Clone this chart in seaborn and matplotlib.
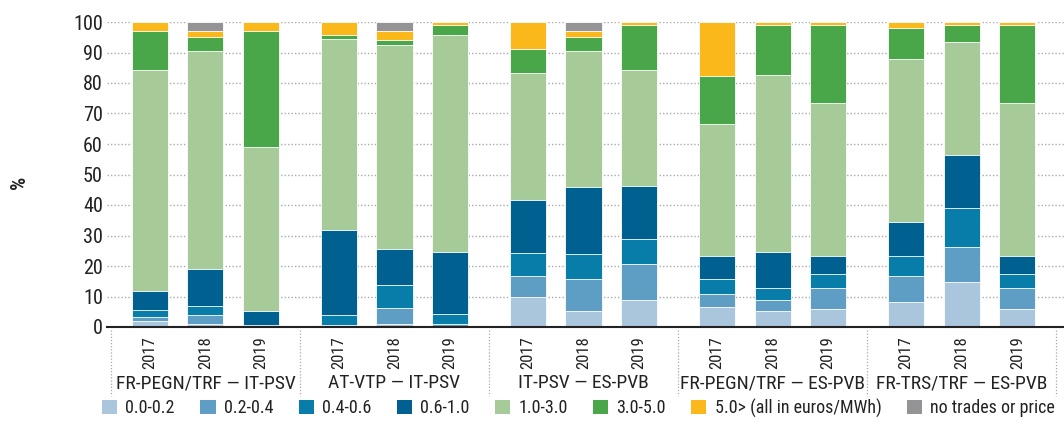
import os
import glob
import numpy as np
import pandas as pd
import matplotlib
matplotlib.use("Agg")
import matplotlib.pyplot as plt
import matplotlib.transforms as mtransforms
from matplotlib.patches import Patch
from matplotlib import font_manager
from matplotlib.font_manager import FontProperties
import seaborn as sns

# ---------------- data ----------------
groups = ["FR-PEGN/TRF \u2014 IT-PSV", "AT-VTP \u2014 IT-PSV", "IT-PSV \u2014 ES-PVB",
          "FR-PEGN/TRF \u2014 ES-PVB", "FR-TRS/TRF \u2014 ES-PVB"]
years = ["2017", "2018", "2019"]
categories = ["0.0-0.2", "0.2-0.4", "0.4-0.6", "0.6-1.0", "1.0-3.0", "3.0-5.0",
              "5.0> (all in euros/MWh)", "no trades or price"]

s_00_02 = [2.0, 0.9, 0.0,  0.0, 0.9, 0.0,  9.9, 5.1, 8.8,  6.7, 5.1, 5.8,  8.1, 14.6, 5.8]
s_02_04 = [1.3, 2.9, 0.0,  0.5, 5.2, 1.1,  6.9, 10.6, 11.8,  4.0, 3.7, 7.1,  8.5, 11.6, 7.1]
s_04_06 = [2.4, 3.0, 0.5,  3.3, 7.8, 3.3,  7.3, 8.1, 8.1,  5.2, 4.1, 4.6,  6.6, 12.9, 4.6]
s_06_10 = [6.1, 12.3, 4.6,  28.0, 11.8, 20.2,  17.5, 22.2, 17.6,  7.3, 11.7, 5.9,  11.1, 17.4, 5.9]
s_10_30 = [72.5, 71.5, 54.0,  62.7, 66.8, 71.1,  41.6, 44.6, 38.0,  43.4, 58.1, 50.1,  53.6, 36.8, 50.1]
s_30_50 = [12.6, 4.6, 37.8,  1.2, 1.5, 3.2,  8.0, 4.4, 14.6,  15.7, 16.4, 25.6,  10.1, 5.8, 25.6]
s_50_up = [3.1, 1.8, 3.1,  4.3, 3.0, 1.1,  8.8, 2.0, 1.1,  17.7, 0.9, 0.9,  2.0, 0.9, 0.9]
s_none = [0.0, 3.0, 0.0,  0.0, 3.0, 0.0,  0.0, 3.0, 0.0,  0.0, 0.0, 0.0,  0.0, 0.0, 0.0]

series = [s_00_02, s_02_04, s_04_06, s_06_10, s_10_30, s_30_50, s_50_up, s_none]
colors = ["#A9C6DD", "#5F9EC4", "#087DAA", "#00608F", "#A6CA98", "#49A649", "#FBB81A", "#949496"]

# ---------------- style ----------------
sns.set_style("white")
plt.rcParams["font.family"] = ["Liberation Sans", "DejaVu Sans"]

pref = ["LiberationSansNarrow-Regular", "ArialNarrow", "Arial Narrow", "NotoSans-Condensed.",
        "NotoSansCondensed-Regular", "RobotoCondensed-Regular", "DejaVuSansCondensed.",
        "OpenSans_Condensed-Regular", "OpenSansCondensed"]
files = [f.fname for f in font_manager.fontManager.ttflist]
for d in ["/usr/share/fonts", "/usr/local/share/fonts", os.path.expanduser("~/.fonts")]:
    try:
        files += glob.glob(os.path.join(d, "**", "*.[ot]tf"), recursive=True)
    except Exception:
        pass
narrow = None
for p in pref:
    for f in files:
        if p.lower() in os.path.basename(f).lower():
            narrow = f
            break
    if narrow:
        break

narrow_bold = None
if narrow:
    base = os.path.basename(narrow)
    cands = [base.replace("Regular", "Bold"), base.replace("Condensed.", "CondensedBold."),
             base.replace("Condensed.", "Condensed-Bold."), base.replace("Narrow-Regular", "Narrow-Bold"),
             base.replace(".", "-Bold.", 1)]
    for c in cands:
        for f in files:
            if os.path.basename(f).lower() == c.lower() and f != narrow:
                narrow_bold = f
                break
        if narrow_bold:
            break

if narrow:
    def FP(size, weight="normal"):
        if weight == "bold" and narrow_bold:
            return FontProperties(fname=narrow_bold, size=size)
        return FontProperties(fname=narrow, size=size)
    scale = 1.0
else:
    def FP(size, weight="normal"):
        return FontProperties(family=["Liberation Sans", "DejaVu Sans"], size=size, weight=weight)
    scale = 0.82

txt_color = "#222222"

fig = plt.figure(figsize=(10.64, 4.32), dpi=100)
ax = fig.add_axes([107 / 1064, 105 / 432, 1 - 107 / 1064, 305 / 432])

step_g = 3.4
pos = np.array([g * step_g + i for g in range(len(groups)) for i in range(len(years))])

vals = np.array(series)
cum = np.cumsum(vals, axis=0)

for k in range(len(series) - 1, -1, -1):
    df = pd.DataFrame({"pos": pos, "val": cum[k]})
    sns.barplot(data=df, x="pos", y="val", native_scale=True, orient="x",
                color=colors[k], saturation=1, width=0.65,
                edgecolor="white", linewidth=0.6, ax=ax, zorder=2)

ax.set_xlim(-0.77, 16.44)
ax.set_ylim(0, 100)
ax.set_yticks(range(0, 101, 10))
ax.set_yticklabels([str(v) for v in range(0, 101, 10)], color=txt_color)
for t in ax.get_yticklabels():
    t.set_fontproperties(FP(14.5 * scale))
ax.yaxis.grid(True, linestyle=(0, (1, 1.5)), color="#AAAAAA", linewidth=1.0, zorder=0)
ax.xaxis.grid(False)
ax.set_axisbelow(True)
for s in ["left", "right", "top"]:
    ax.spines[s].set_visible(False)
ax.spines["bottom"].set_color("#222222")
ax.spines["bottom"].set_linewidth(1.5)
ax.tick_params(axis="y", length=0, pad=3)
ax.tick_params(axis="x", length=0, pad=7)
ax.set_xticks(pos)
ax.set_xticklabels(years * len(groups), rotation=90, color=txt_color)
for t in ax.get_xticklabels():
    t.set_fontproperties(FP(12 * scale))
ax.set_xlabel("")
ax.set_ylabel("")

trans = mtransforms.blended_transform_factory(ax.transData, ax.transAxes)
for g, name in enumerate(groups):
    cx = g * step_g + 1
    ax.text(cx, -0.2, name, transform=trans, ha="center", va="baseline",
            fontproperties=FP(14 * scale), color=txt_color)
seps = [-0.7] + [g * step_g + 2 + (step_g - 2) / 2 for g in range(len(groups) - 1)] + [(len(groups) - 1) * step_g + 2.7]
for sx in seps:
    ax.plot([sx, sx], [-0.01, -0.225], transform=trans, clip_on=False,
            linestyle=(0, (1, 1.5)), color="#AAAAAA", linewidth=0.9)

fig.text(19 / 1064, 1 - 182 / 432, "%", rotation=90, ha="center", va="center",
         fontproperties=FP(15 * scale, "bold"), color=txt_color)

handles = [Patch(facecolor=c, edgecolor="none") for c in colors]
fig.legend(handles, categories, loc="center left", ncol=8,
           bbox_to_anchor=(102 / 1064, 1 - 408 / 432), frameon=False,
           prop=FP(13 * scale), handlelength=0.85, handleheight=0.85, handletextpad=0.45,
           columnspacing=1.4, borderpad=0, borderaxespad=0, labelcolor=txt_color)

fig.savefig("out.png", dpi=100)
